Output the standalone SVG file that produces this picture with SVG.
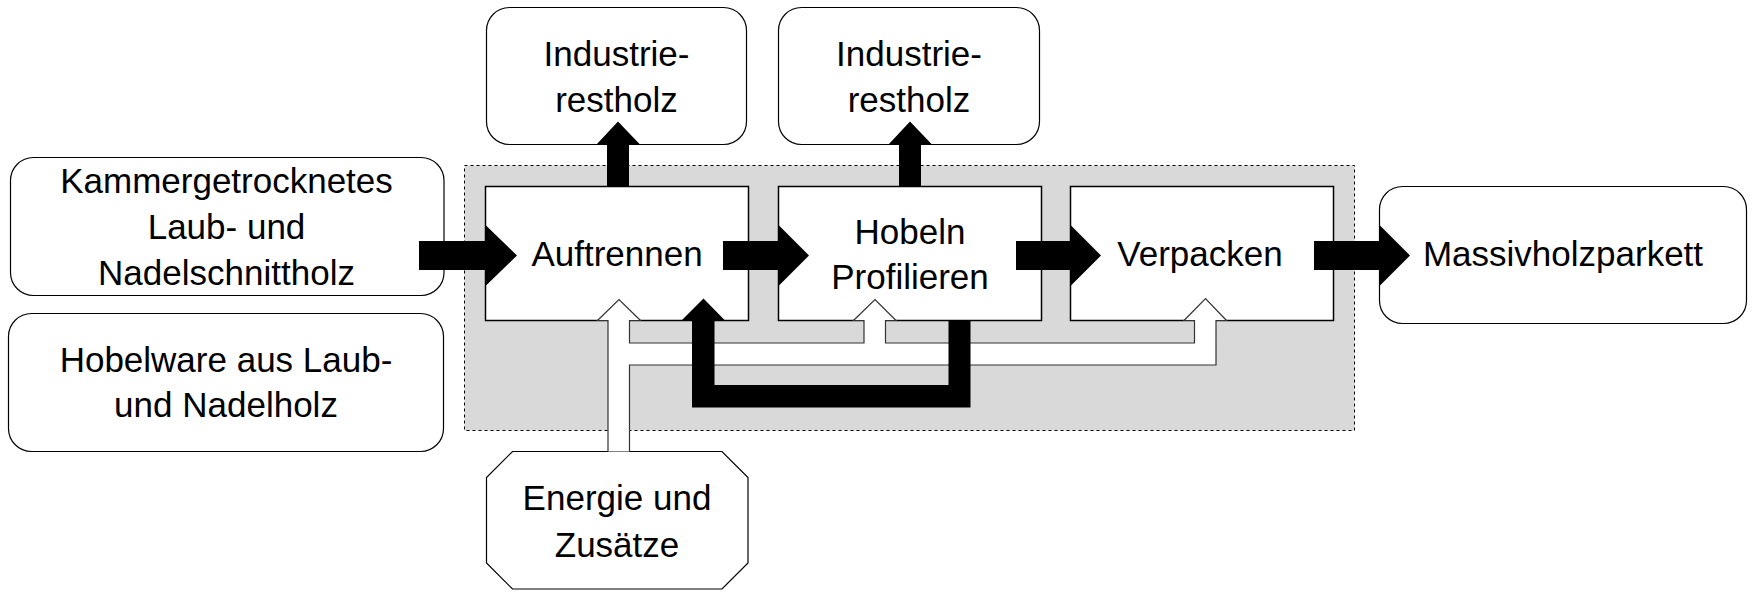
<svg xmlns="http://www.w3.org/2000/svg" width="1759" height="597" viewBox="0 0 1759 597">
<style>
  .t{font-family:"Liberation Sans",Arial,sans-serif;font-size:35px;fill:#000;text-anchor:middle}
  .rbox{fill:#fff;stroke:#000;stroke-width:1.2}
  .pbox{fill:#fff;stroke:#000;stroke-width:1.5}
  .blk{fill:#000;stroke:none}
  .pipe{fill:#fff;stroke:#333;stroke-width:1.2;stroke-linejoin:miter}
</style>
<rect width="1759" height="597" fill="#fff"/>
<g id="system">
  <rect x="464.5" y="165.5" width="890" height="265" fill="#d9d9d9" stroke="#000" stroke-width="1" stroke-dasharray="3 3"/>
</g>
<g id="auftrennen">
  <rect class="pbox" x="485.5" y="186.5" width="263" height="134"/>
  <text class="t" x="617" y="266">Auftrennen</text>
</g>
<g id="hobeln">
  <rect class="pbox" x="778.5" y="186.5" width="263" height="134"/>
  <text class="t" x="910" y="244">Hobeln</text>
  <text class="t" x="910" y="289">Profilieren</text>
</g>
<g id="verpacken">
  <rect class="pbox" x="1070.5" y="186.5" width="263" height="134"/>
  <text class="t" x="1200" y="266">Verpacken</text>
</g>
<g id="industrie1">
  <rect class="rbox" x="486.5" y="7.5" width="260" height="137" rx="23"/>
  <text class="t" x="616.5" y="66">Industrie-</text>
  <text class="t" x="616.5" y="112">restholz</text>
</g>
<g id="industrie2">
  <rect class="rbox" x="778.5" y="7.5" width="261" height="137" rx="23"/>
  <text class="t" x="909" y="66">Industrie-</text>
  <text class="t" x="909" y="112">restholz</text>
</g>
<g id="kammer">
  <rect class="rbox" x="10.5" y="157.5" width="433.5" height="138" rx="23"/>
  <text class="t" x="226.5" y="193">Kammergetrocknetes</text>
  <text class="t" x="226.5" y="239">Laub- und</text>
  <text class="t" x="226.5" y="285">Nadelschnittholz</text>
</g>
<g id="hobelware">
  <rect class="rbox" x="8.5" y="313.5" width="435" height="138" rx="23"/>
  <text class="t" x="226" y="372">Hobelware aus Laub-</text>
  <text class="t" x="226" y="417">und Nadelholz</text>
</g>
<g id="massiv">
  <rect class="rbox" x="1379.5" y="186.5" width="367" height="137" rx="23"/>
  <text class="t" x="1563" y="266">Massivholzparkett</text>
</g>
<g id="energie">
  <polygon class="rbox" points="512.5,451.5 722,451.5 748,477.5 748,563 722,589 512.5,589 486.5,563 486.5,477.5"/>
  <text class="t" x="617" y="510">Energie und</text>
  <text class="t" x="617" y="557">Zusätze</text>
</g>
<g id="connectors">
  <polygon class="blk" points="419,241 485.5,241 485.5,225 517,255.5 485.5,286 485.5,270 419,270"/>
  <polygon class="blk" points="723,241 778.5,241 778.5,225 809,255.5 778.5,286 778.5,270 723,270"/>
  <polygon class="blk" points="1016,241 1070.5,241 1070.5,225 1101,255.5 1070.5,286 1070.5,270 1016,270"/>
  <polygon class="blk" points="1314,241 1379.5,241 1379.5,225 1410,255.5 1379.5,286 1379.5,270 1314,270"/>
  <polygon class="blk" points="607,187 607,144.5 596.5,144.5 618,121.5 640,144.5 629,144.5 629,187"/>
  <polygon class="blk" points="899,187 899,144.5 888.5,144.5 910,121.5 932,144.5 921,144.5 921,187"/>
  <path class="pipe" d="M608,451.5 L608,320.5 L597.5,320.5 L619,299.5 L640.5,320.5 L629.5,320.5 L629.5,343 L864,343 L864,320.5 L853.5,320.5 L875,299.5 L896,320.5 L885.5,320.5 L885.5,343 L1194.5,343 L1194.5,320.5 L1184,320.5 L1205.5,298.5 L1226.5,320.5 L1216,320.5 L1216,365 L629.5,365 L629.5,451.5"/>
  <polygon class="blk" points="948.5,321 970.5,321 970.5,407.5 692,407.5 692,320.5 681.5,320.5 703.5,298.5 725,320.5 714.5,320.5 714.5,385 948.5,385"/>
</g>
</svg>
